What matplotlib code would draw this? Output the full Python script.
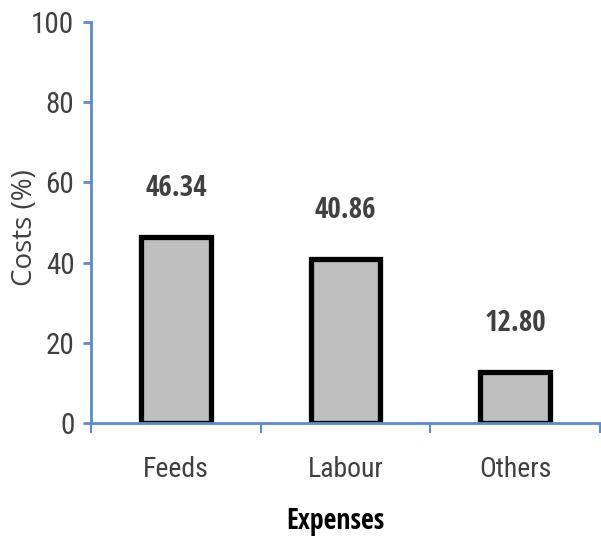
import matplotlib
matplotlib.use("Agg")
import matplotlib.pyplot as plt

categories = ["Feeds", "Labour", "Others"]
costs = [46.34, 40.86, 12.80]
value_labels = ["46.34", "40.86", "12.80"]
yticks = [0, 20, 40, 60, 80, 100]

plt.rcParams['font.family'] = ['Roboto Condensed', 'DejaVu Sans']

axis_blue = "#5b8bd0"
text_grey = "#404040"
bold_font = ['Open Sans Condensed', 'DejaVu Sans']

fig = plt.figure(figsize=(6.01, 5.37), dpi=100)
ax = fig.add_axes([91/601, 1 - 423/537, 509/601, 401/537])

x = range(len(categories))
ax.bar(x, costs, width=0.41, color="#bfbfbf", edgecolor="black", linewidth=3.8)

for xi, v, lab in zip(x, costs, value_labels):
    ax.annotate(lab, (xi, v), xytext=(0, 35), textcoords="offset points",
                ha="center", va="center", fontsize=21, fontweight="bold",
                family=bold_font, color=text_grey)

ax.set_xlim(-0.5, 2.5)
ax.set_ylim(0, 100)
ax.set_yticks(yticks)
ax.set_yticklabels([str(t) for t in yticks], fontsize=21, color=text_grey)

# category names centred, ticks at the boundaries
ax.set_xticks([-0.5, 0.5, 1.5, 2.5])
ax.set_xticklabels([])
ax.tick_params(axis="x", length=7, width=1.5, color=axis_blue, direction="out")
ax.tick_params(axis="y", length=6, width=2, color=axis_blue, direction="out", pad=6)
for xi, c in zip(x, categories):
    ax.text(xi, -11.5, c, ha="center", va="center", fontsize=20, color=text_grey,
            transform=ax.transData)

for s in ["top", "right"]:
    ax.spines[s].set_visible(False)
for s in ["left", "bottom"]:
    ax.spines[s].set_color(axis_blue)
    ax.spines[s].set_linewidth(2)

fig.text(25/601, 1 - 228/537, "Costs (%)", rotation=90, ha="center", va="center",
         fontsize=20, family=['Open Sans', 'DejaVu Sans'], color=text_grey)
fig.text(335/601, 1 - 522/537, "Expenses", ha="center", va="center",
         fontsize=20, fontweight="bold", family=bold_font, color="black")

fig.savefig("out.png", dpi=100)
